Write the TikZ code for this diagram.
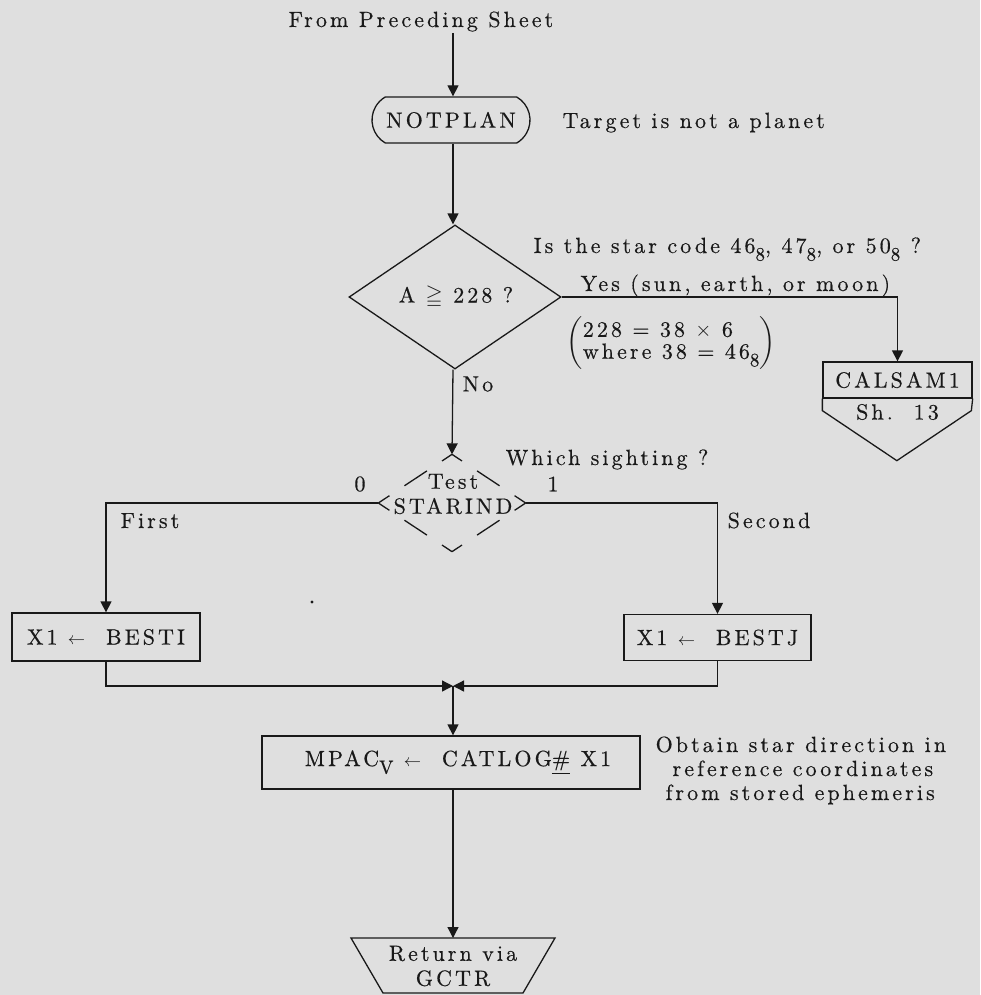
\documentclass[tikz,border=0pt]{standalone}
\usepackage{amssymb}
\usepackage{fontspec}
\setmainfont{lmroman10-regular.otf}[LetterSpace=14, FakeBold=0.4]
\usetikzlibrary{shapes.geometric,shapes.misc,arrows.meta,calc}
\definecolor{paper}{RGB}{223,223,223}
\definecolor{ink}{RGB}{25,25,25}
% lowered octal base digit / vector index
\newcommand\lowsub[1]{\raisebox{-0.8ex}{\fontsize{19}{19}\selectfont #1}}
\newcommand\smallarrow{{\fontsize{17}{17}\selectfont$\leftarrow$}}

\begin{document}
\begin{tikzpicture}[x=1pt,y=-1pt,
  font=\fontsize{22}{25}\selectfont, color=ink, line width=1.3pt,
  arr/.style={-{Triangle[length=11pt,width=11pt]}},
  txt/.style={inner sep=0, anchor=base west},
  procbox/.style={draw, rectangle, inner sep=0},
  testdash/.style={dash pattern=on 12pt off 18pt on 27pt off 18pt on 14pt off 0pt}]

\fill[paper] (0,0) rectangle (980,995);
\useasboundingbox (0,0) rectangle (980,995);

% entry
\node[txt] (from) at (288,27) {From Preceding Sheet};
\coordinate (fromend) at (453,33);

\node[rounded rectangle, rounded rectangle arc length=120, draw,
      minimum width=158, minimum height=46, inner sep=0] (notplan) at (451,120) {NOTPLAN};
\node[txt] (target) at (562,128) {Target is not a planet};

% star code decision
\node[diamond, draw, minimum width=212, minimum height=144, inner sep=0] (dec) at (455,297) {};
\node[inner sep=0] (decl) at (456,297) {A $\geqq$ 228 ?};
\node[txt] (isstar) at (533,253) {Is the star code 46\lowsub{8}, 47\lowsub{8}, or 50\lowsub{8} ?};
\node[txt] (yes) at (580,291) {Yes (sun, earth, or moon)};
\node[inner sep=0, anchor=west] (paren) at (566,343)
  {$\left(\mbox{\begin{tabular}{@{}l@{}}228 = 38 $\times$ 6\\[-3pt]where 38 = 46\lowsub{8}\end{tabular}}\right)$};
\node[inner sep=0, anchor=west] (no) at (462,384) {No};

% sun / earth / moon exit
\node[procbox, minimum width=149, minimum height=36] (calsam) at (897.5,380) {CALSAM1};
\draw (calsam.south west) -- ++(0,12) -- ++(74.5,50) -- ++(74.5,-50) -- (calsam.south east);
\node[inner sep=0] (sheet) at (897.5,412) {Sh.\ \ 13};

% sighting test (broken-outline decision)
\node[diamond, minimum width=146, minimum height=96, inner sep=0] (test) at (452,503) {};
\draw[testdash] (test.north) -- (test.east);
\draw[testdash] (test.north) -- (test.west);
\draw[testdash] (test.south) -- (test.east);
\draw[testdash] (test.south) -- (test.west);
\node[inner sep=0, align=center] (testl) at (453,494) {Test\\STARIND};
\node[txt] (which) at (505,465) {Which sighting ?};
\node[inner sep=0] (zero) at (360,484) {0};
\node[inner sep=0] (one) at (553,484) {1};
\node[txt] (first) at (120,528) {First};
\node[txt] (second) at (727,528) {Second};

% star index choices
\node[procbox, minimum width=188, minimum height=48] (besti) at (106,637) {X1 \smallarrow\ \ BESTI};
\node[procbox, minimum width=187, minimum height=46] (bestj) at (717.5,637.5) {X1 \smallarrow\ \ BESTJ};
\fill (312,602) circle (1.6);

\coordinate (merge) at (453,686);

% catalogue lookup
\node[procbox, minimum width=378, minimum height=53] (mpac) at (451,762.5)
  {\hspace{14pt}MPAC\lowsub{V} \smallarrow\ \ CATLOG\underline{\#} X1};
\node[txt] (obtain1) at (655,752) {Obtain star direction in};
\node[txt] (obtain2) at (672,776) {reference coordinates};
\node[txt] (obtain3) at (665,800) {from stored ephemeris};

% return
\node[inner sep=0, align=center] (ret) at (453,966) {Return via\\GCTR};
\coordinate (rettop) at (453,938);
\draw (351,938) -- (555,938) -- (523,993) -- (383,993) -- cycle;

% connectors
\draw[arr] (fromend) -- (notplan.north -| fromend);
\draw[arr] (notplan.south -| fromend) -- (dec.north -| fromend);
\draw[arr] (dec.east) -| (calsam.north);
\draw[arr] (dec.south -| fromend) -- (test.north);
\draw[arr] (test.west) -| (besti.north);
\draw[arr] (test.east) -| (bestj.north);
\draw[arr] (besti.south) |- (merge);
\draw[arr] (bestj.south) |- (merge);
\draw[arr] (merge) -- (merge |- mpac.north);
\draw[arr] (mpac.south -| merge) -- (rettop);
\end{tikzpicture}
\end{document}
